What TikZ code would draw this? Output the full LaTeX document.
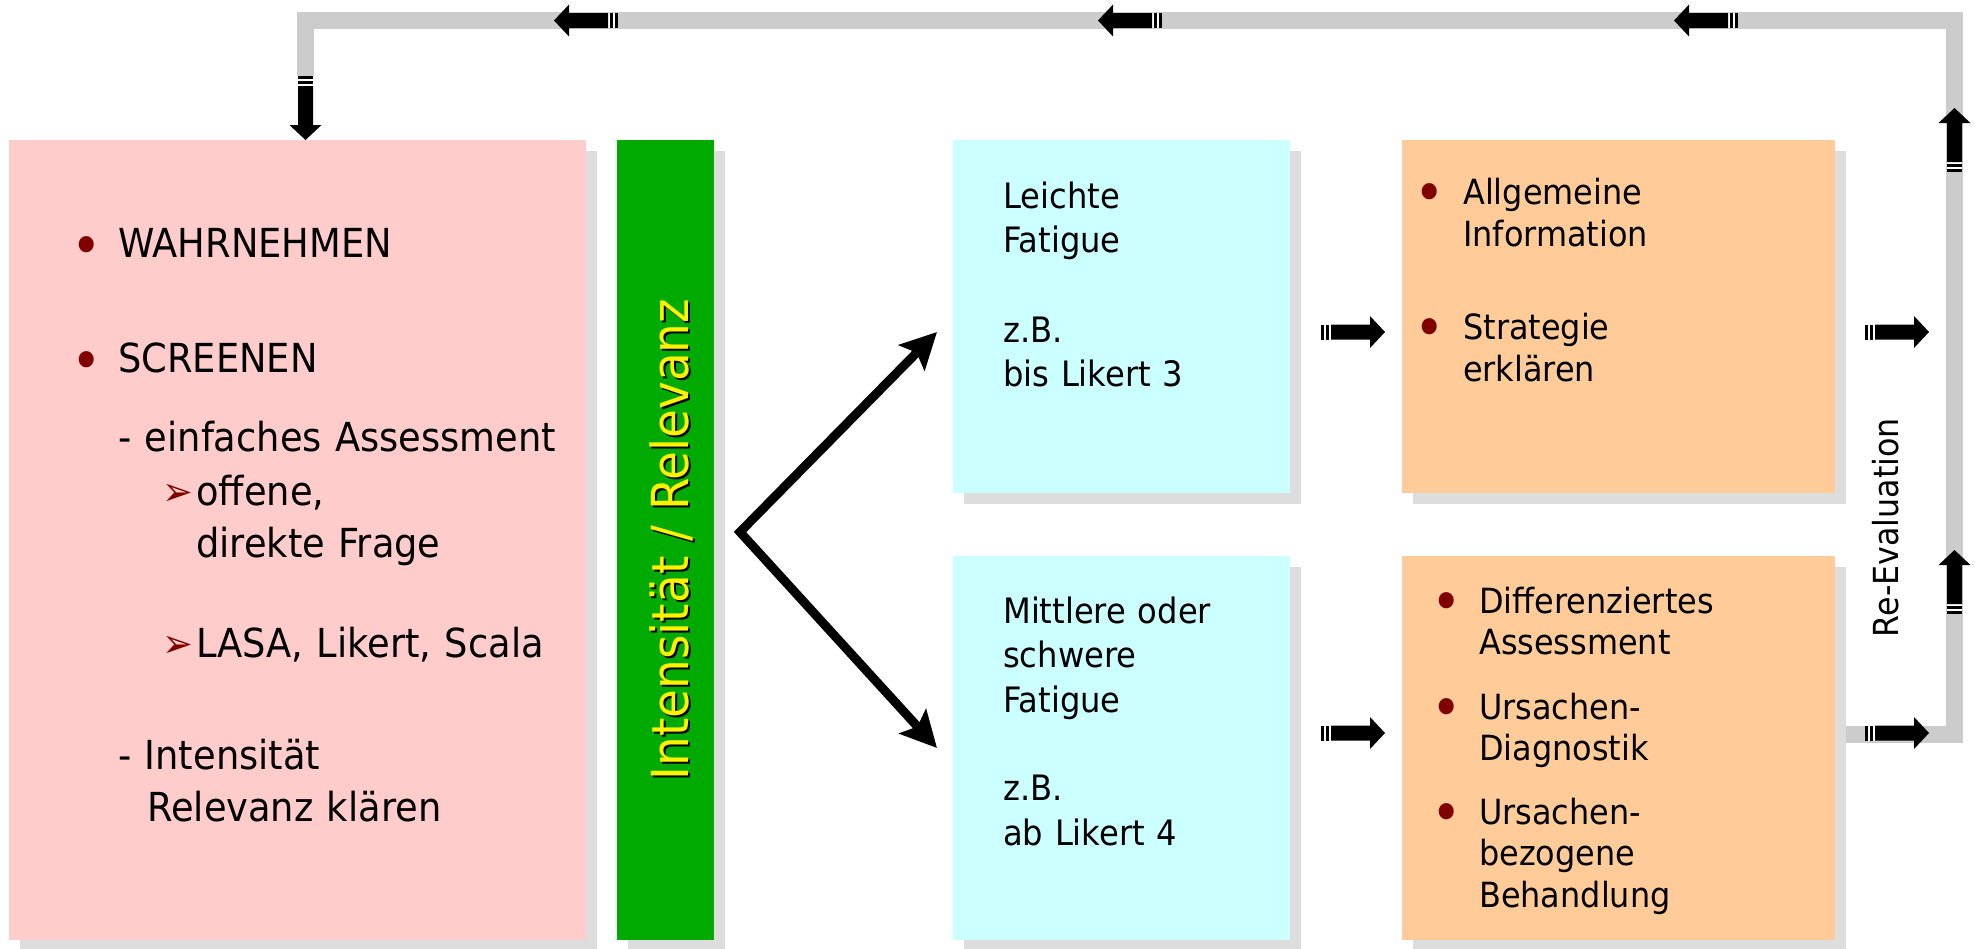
\documentclass[tikz,border=0pt]{standalone}
\usepackage{fontspec}
\setmainfont{DejaVu Sans}[FakeStretch=0.92]
\usetikzlibrary{arrows.meta, shadows}
\setlength{\parindent}{0pt}

\definecolor{pinkbox}{HTML}{FFCCCC}
\definecolor{greenbar}{HTML}{00AA00}
\definecolor{cyanbox}{HTML}{CCFFFF}
\definecolor{orangebox}{HTML}{FFCC99}
\definecolor{loopgray}{HTML}{CCCCCC}
\definecolor{shadowgray}{HTML}{DDDDDD}
\definecolor{bulletred}{HTML}{800000}

\newcommand{\bul}[1]{\leavevmode\llap{\raisebox{-8pt}{\makebox[0pt][c]{\fontsize{56}{56}\selectfont\textcolor{bulletred}{•}}}\hspace{#1}}}
\newcommand{\pfeil}{\makebox[34pt][l]{\fontsize{40}{40}\selectfont\textcolor{bulletred}{➢}}}

\begin{document}
\begin{tikzpicture}[x=1pt, y=-1pt,
    box/.style={rectangle, inner sep=0pt, anchor=north west, general shadow={fill=shadowgray, shadow xshift=10.5pt, shadow yshift=-10.5pt}},
    txt/.style={inner sep=0pt, anchor=base west, align=left, text width=#1},
    loopline/.style={draw=loopgray, line width=17pt, line join=miter},
    forkline/.style={line width=9pt, line join=miter, {Stealth[length=36pt, width=36pt, inset=7pt]}-{Stealth[length=36pt, width=36pt, inset=7pt]}},
    stripearrow/.pic={
        \fill[white] (0,-7.5) rectangle (10,7.5);
        \fill (0,-7.5) rectangle (3,7.5);
        \fill (5,-7.5) rectangle (8,7.5);
        \fill (10,-7.5) -- (49,-7.5) -- (49,-16) -- (64,0) -- (49,16) -- (49,7.5) -- (10,7.5) -- cycle;
    }]
    \useasboundingbox (0,0) rectangle (1975,948);

    % Boxen
    \node[box, fill=pinkbox, minimum width=577pt, minimum height=800pt] (wahr) at (9,140) {};
    \node[box, fill=greenbar, minimum width=97pt, minimum height=800pt] (bar) at (617,140) {};
    \node[box, fill=cyanbox, minimum width=337pt, minimum height=353pt] (leicht) at (953,140) {};
    \node[box, fill=cyanbox, minimum width=337pt, minimum height=384pt] (schwer) at (953,556) {};
    \node[box, fill=orangebox, minimum width=433pt, minimum height=353pt] (info) at (1402,140) {};
    \node[box, fill=orangebox, minimum width=433pt, minimum height=384pt] (diag) at (1402,556) {};

    % Texte
    \node[txt=470pt, font=\fontsize{40}{52}\selectfont] (wahrtext) at (118,257) {\bul{32pt}WAHRNEHMEN\\[63pt]\bul{32pt}SCREENEN\\[27pt]- einfaches Assessment\\[2pt]\hspace*{44pt}\pfeil offene,\\\hspace*{78pt}direkte Frage\\[48pt]\hspace*{44pt}\pfeil LASA, Likert, Scala\\[60pt]- Intensität\\\hspace*{29pt}Relevanz klären};
    \node[rotate=90, anchor=base, font=\fontsize{51}{51}\selectfont, text=black] (barshade) at (690,541.5) {Intensität / Relevanz};
    \node[rotate=90, anchor=base, font=\fontsize{51}{51}\selectfont, text=yellow] (bartext) at (688,539.5) {Intensität / Relevanz};
    \node[txt=280pt, font=\fontsize{35}{44.5}\selectfont] (leichttext) at (1003,208) {Leichte\\Fatigue\\[45pt]z.B.\\bis Likert 3};
    \node[txt=280pt, font=\fontsize{35}{44.5}\selectfont] (schwertext) at (1003,623) {Mittlere oder\\schwere\\Fatigue\\[44pt]z.B.\\ab Likert 4};
    \node[txt=360pt, font=\fontsize{34.7}{42.5}\selectfont] (infotext) at (1463,204) {\bul{34pt}Allgemeine\\Information\\[50pt]\bul{34pt}Strategie\\erklären};
    \node[txt=350pt, font=\fontsize{34.7}{41.5}\selectfont] (diagtext) at (1479,613) {\bul{33pt}Differenziertes\\Assessment\\[23pt]\bul{33pt}Ursachen-\\Diagnostik\\[22pt]\bul{33pt}Ursachen-\\bezogene\\Behandlung};
    \node[rotate=90, anchor=base, font=\fontsize{34.5}{34.5}\selectfont] (reeval) at (1898,527.5) {Re-Evaluation};

    % Rueckfuehrung
    \coordinate (loopB) at (1954.5,734.5);
    \coordinate (loopC) at (1954.5,20.5);
    \coordinate (loopD) at (305.5,20.5);
    \coordinate (loopE) at (305.5,76);
    \draw[loopline] ([xshift=10.5pt]diag.east |- loopB) -- (loopB) -- (loopC) -- (loopD) -- (loopE);

    % Verzweigung
    \coordinate (fork) at (740,532);
    \coordinate (upTip) at (937,332);
    \coordinate (downTip) at (937,748);
    \draw[forkline] (upTip) -- (fork) -- (downTip);

    % Blockpfeile
    \foreach \x in {618,1162,1738}
        \pic[rotate=180] at (\x,20.5) {stripearrow};
    \pic[rotate=-90] at (305.5,76) {stripearrow};
    \pic[rotate=90] at (1954.5,172) {stripearrow};
    \pic[rotate=90] at (1954.5,614) {stripearrow};
    \foreach \x in {1321,1865}
        \foreach \y in {332,733}
            \pic at (\x,\y) {stripearrow};
\end{tikzpicture}
\end{document}
